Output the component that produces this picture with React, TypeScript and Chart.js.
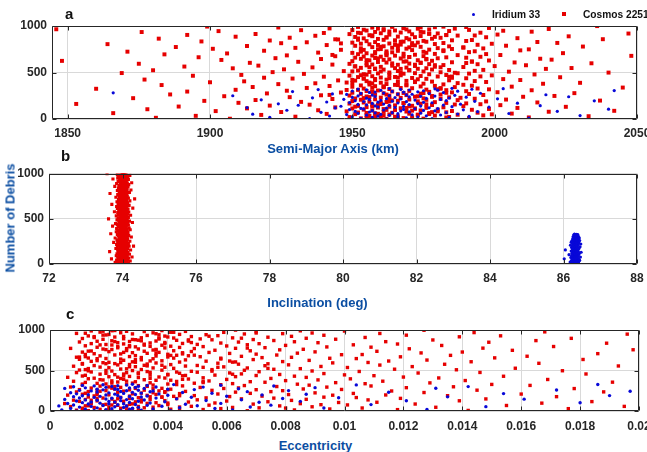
import React, { useEffect, useRef } from "react";
import { Chart, registerables } from "chart.js";

Chart.register(...registerables);

const FONT = '"Liberation Sans", Arial, Helvetica, sans-serif';
const TITLE_BLUE = "#0b4ea2";
const RED = "#e60000";
const BLUE = "#0808d8";
const AXIS = "#262626";
const GRID = "#d9d9d9";

// ---- tick labels ----
const yTicks = [0, 500, 1000];
const smaTicks = [1850, 1900, 1950, 2000, 2050];
const incTicks = [72, 74, 76, 78, 80, 82, 84, 86, 88];
const eccTicks = [0, 0.002, 0.004, 0.006, 0.008, 0.01, 0.012, 0.014, 0.016, 0.018, 0.02];

// ---- Cosmos 2251 debris (red) ----
const redDebrisNo = [
  1,3,4,7,9,10,13,15,17,18, 21,22,25,27,29,30,33,34,37,39, 40,43,44,46,49,50,52,55,57,58,
  61,63,64,67,68,70,72,75,76,78, 80,82,85,86,88,91,92,94,97,99, 101,102,105,107,108,111,113,114,116,119,
  120,123,125,126,128,131,132,134,137,138, 141,142,144,147,149,150,153,154,156,159, 160,162,165,166,168,171,173,174,177,178,
  181,183,184,186,189,190,193,195,196,198, 200,203,204,207,209,210,212,215,217,218, 221,222,224,227,228,230,233,235,236,239,
  240,242,245,247,248,251,252,255,257,258, 261,263,264,266,269,270,272,275,277,278, 280,283,285,286,288,291,292,295,296,299,
  301,302,304,307,309,310,313,314,316,319, 320,322,325,327,328,331,333,334,337,338, 341,343,344,347,348,350,353,355,356,358,
  361,362,365,367,368,371,372,375,376,379, 380,383,384,386,389,390,392,395,397,398, 401,402,405,407,408,410,413,415,416,419,
  420,423,424,427,429,430,432,435,436,438, 441,443,444,446,449,451,452,455,457,458, 460,462,465,466,469,470,473,474,476,479,
  481,482,485,487,488,490,493,494,497,499, 500,503,504,506,509,511,512,515,516,518, 521,523,524,527,528,531,532,534,537,539,
  540,542,545,547,548,550,553,555,556,559, 561,562,564,567,569,570,573,574,577,578, 580,583,585,586,589,590,593,594,596,599,
  601,603,604,607,608,610,613,615,617,618, 620,622,625,626,629,631,632,635,636,638, 641,642,645,647,648,651,653,654,656,659,
  660,663,664,667,669,670,672,675,676,679, 681,682,684,687,688,691,692,695,697,698, 700,702,705,707,708,711,712,714,717,719,
  720,723,724,727,728,730,733,734,737,738, 741,743,744,746,749,750,753,755,756,759, 760,762,765,766,768,771,773,774,776,779,
  781,782,785,787,788,791,792,795,796,798, 800,803,805,806,809,810,812,815,817,818, 821,822,825,827,828,831,832,834,837,839,
  840,843,844,846,849,851,852,855,856,858, 861,863,864,867,869,870,873,874,877,879, 880,882,885,886,889,890,892,895,897,898,
  901,903,904,907,908,911,913,914,916,919, 920,922,925,927,928,930,933,935,936,939, 941,942,945,946,949,951,952,955,957,958,
  960,963,965,966,968,971,972,974,977,979, 981,983,984,987,989,990,993,994,997,999,
  6,112,219,326,434,539,646,752,857,963, 24,133,238,345,454,557,666,770,878,985, 47,151,259,365,471,579,686,793,899,16,
  65,170,279,387,492,598,705,813,918,36, 83,189,297,404,511,617,724,831,937,56, 98,206,312,418,526,633,739,845,954,74,
  118,225,332,439,546,652,758,866,972,90, 135,244,351,456,565,671,777,883,991,11, 157,263,369,477,584,689,797,902,30,606,
  176,282,391,496,602,709,816,923,53,446,
];

const redSemiMajorAxis = [
  1962,1907,1975,1953,1991,1968,1881,1958,2012,1971, 1949,1984,1930,1960,1966,2033,1956,1895,1979,1996,
  1973,1955,1918,1987,1963,1999,1951,1941,1970,2006, 1958,1866,1977,1964,1994,1952,1983,1925,1961,2019,
  1969,1948,1902,1985,2042,1957,1974,1938,1965,1992, 1954,1980,1878,1961,1998,1972,1950,1913,1967,2008,
  1976,1959,1944,1982,1955,2025,1963,1889,1970,1989, 1952,1971,1921,1965,2002,1978,1957,1935,1986,1995,
  1960,1853,1974,1949,1990,1968,1983,1910,1954,2015, 1979,1962,1932,1956,1997,1973,1950,1898,1966,2037,
  1964,1987,1916,1953,2004,1970,1958,1943,1981,1993, 1951,1975,1873,1967,1988,1960,1984,1928,1956,2010,
  1972,1955,1905,1978,2021,1963,1949,1939,1969,1996, 1958,1981,1886,1966,1991,1953,1974,1920,1961,2028,
  1968,1950,1946,1985,2001,1957,1977,1892,1964,1990, 1955,1970,1927,1959,2013,1983,1952,1909,1976,1998,
  1980,1963,1860,1954,1994,1971,1967,1934,1957,2045, 1961,1986,1915,1950,2006,1974,1958,1942,1979,1992,
  1953,1969,1883,1965,1989,1956,1982,1924,1962,2017, 1975,1957,1937,1987,2030,1960,1948,1900,1972,1997,
  1966,1978,1912,1955,1993,1969,1951,1945,1984,2009, 1950,1962,1877,1973,2003,1958,1976,1929,1954,1990,
  1971,1985,1919,1960,2023,1952,1965,1940,1980,1995, 1957,1974,1894,1949,1999,1967,1983,1911,1963,2014,
  1977,1954,1933,1968,1991,1959,1972,1869,1986,2040, 1963,1981,1922,1956,2005,1975,1950,1947,1966,1993,
  1952,1970,1880,1984,1996,1961,1978,1926,1958,2018, 1973,1958,1908,1965,2027,1953,1969,1936,1981,1989,
  1960,1979,1891,1951,2000,1972,1964,1917,1955,2011, 1982,1966,1943,1957,1994,1977,1949,1875,1970,2034,
  1955,1974,1914,1962,2007,1985,1959,1931,1968,1992, 1969,1950,1848,1978,1998,1956,1973,1904,1961,2020,
  1976,1963,1939,1953,2016,1967,1980,1923,1958,1990, 1951,1983,1896,1970,1995,1960,1954,1944,1975,2048,
  1965,1957,1927,1987,2002,1972,1962,1884,1952,1997, 1979,1968,1906,1955,2024,1950,1976,1938,1964,1991,
  1958,1975,1871,1962,1993,1982,1966,1919,1953,2009, 1971,1954,1946,1977,2012,1959,1985,1901,1969,1996,
  1953,1980,1930,1964,1989,1970,1957,1888,1974,2031, 1984,1961,1913,1951,2004,1966,1972,1941,1959,1994,
  1967,1956,1864,1979,1999,1953,1963,1925,1982,2022, 1950,1973,1934,1958,2015,1976,1968,1897,1955,1990,
  1975,1965,1921,1985,1992,1961,1952,1945,1970,2038, 1959,1978,1882,1954,2008,1969,1981,1928,1962,1997,
  1972,1951,1909,1966,2026,1957,1974,1937,1987,1993, 1956,1983,1892,1963,2001,1971,1949,1916,1977,2047,
  1980,1960,1940,1952,1995,1967,1975,1876,1958,2013, 1963,1970,1903,1984,2003,1955,1965,1932,1950,1991,
  1954,1977,1846,1961,2019,1973,1959,1942,1968,1998, 1968,1957,1924,1979,1990,1952,1982,1899,1964,2036,
  1958,1972,1963,1981,1954,1967,1976,1960,1944,1969, 1965,1951,1978,1961,1984,1956,1970,1989,1962,1974,
  1973,1959,1942,1966,1953,1979,1962,1971,1957,1983, 1955,1968,1975,1950,1987,1964,1958,1946,1977,1961,
  1980,1963,1957,1972,1960,1992,1953,1967,1974,1959, 1962,1976,1948,1958,1970,1955,1982,1965,1961,1978,
  1969,1954,1981,1963,1976,1959,1966,1952,1986,1971, 1957,1973,1961,1985,1951,1968,1960,1979,1964,1955,
  1976,1962,1969,1955,1972,1943,1965,1983,1958,1974, 1960,1983,1956,1967,1990,1962,1971,1953,1977,1966,
];

const redInclination = [
  74.02,73.95,74.10,73.88,74.05,73.99,74.16,73.92,74.07,73.80, 73.97,74.12,74.01,73.86,74.08,73.93,74.21,74.04,73.99,73.90,
  74.06,73.84,74.00,74.14,73.96,74.09,73.91,74.03,73.70,74.11, 73.98,74.05,73.89,74.17,74.01,73.94,74.08,73.87,74.02,74.26,
  74.03,73.92,74.13,73.97,74.07,73.83,74.00,74.10,73.95,74.05, 73.90,74.06,73.99,74.19,73.94,74.02,73.85,74.11,74.04,73.97,
  74.09,73.96,74.01,73.88,74.15,74.03,73.93,74.07,73.65,74.00, 73.95,74.12,74.04,73.91,74.00,74.08,73.98,74.22,73.87,74.05,
  74.01,73.89,74.10,73.97,74.05,73.82,74.14,73.94,74.03,73.99, 74.07,73.93,73.99,74.11,73.86,74.04,74.00,73.96,74.18,74.30,
  73.96,74.02,74.13,73.90,74.06,73.98,74.09,73.84,74.01,74.04, 74.00,73.94,74.07,74.16,73.92,74.03,73.88,74.10,73.97,73.76,
  74.05,73.99,73.87,74.08,74.01,74.20,73.95,74.04,73.91,74.12, 73.93,74.06,74.02,73.85,74.11,73.97,74.00,74.14,74.07,73.96,
  74.08,73.91,74.04,73.99,73.80,74.13,74.02,73.94,74.06,74.24, 73.98,74.10,73.95,74.03,74.07,73.89,74.17,74.00,73.93,74.05,
  74.04,73.96,74.12,73.86,74.01,74.06,73.99,73.68,74.09,73.92, 73.97,74.03,74.08,74.15,73.90,74.00,74.05,73.94,73.83,74.11,
  74.06,73.92,74.01,73.98,74.13,73.87,74.04,74.09,73.95,74.21, 74.00,74.07,73.93,74.11,73.97,74.02,73.84,74.05,74.18,73.99,
  73.94,74.05,74.10,73.99,74.03,73.88,74.07,73.96,74.01,73.73, 74.09,73.98,73.91,74.04,74.16,74.00,73.95,74.12,73.86,74.03,
  74.02,74.08,73.96,73.81,74.05,73.93,74.14,73.99,74.06,74.27, 73.95,74.01,74.11,73.90,74.04,74.07,73.98,74.19,73.92,74.00,
  74.06,73.97,74.03,74.09,73.85,74.00,74.13,73.94,74.02,73.62, 73.99,74.10,73.92,74.05,74.01,73.88,74.07,74.16,73.96,74.03,
  74.04,73.93,74.08,73.98,74.12,74.02,73.83,74.06,73.99,74.22, 73.97,74.05,74.00,73.89,74.09,74.14,73.95,74.03,74.07,73.91,
  74.01,73.96,74.11,74.04,73.87,73.99,74.06,74.17,73.93,73.78, 74.08,74.02,73.94,74.00,74.05,73.90,74.13,73.97,74.10,74.03,
  73.92,74.07,74.03,73.98,74.15,74.01,73.86,74.09,74.04,74.28, 74.05,73.95,74.10,74.02,73.91,74.06,74.00,73.84,73.99,74.12,
  74.00,74.09,73.97,74.04,74.18,73.93,74.07,74.01,73.88,73.71, 73.96,74.03,74.12,73.90,74.06,73.99,74.02,74.14,73.95,74.08,
  74.07,73.98,74.01,74.10,73.85,74.04,73.94,74.00,74.20,73.97, 74.02,74.11,73.93,74.05,74.00,73.89,74.08,73.96,74.03,74.33,
  73.99,74.04,74.09,73.92,74.16,74.01,73.97,74.06,73.82,74.00, 74.06,73.95,74.02,74.13,73.98,74.07,73.90,74.03,74.10,73.94,
  73.97,74.08,73.99,74.04,73.87,74.11,74.01,73.93,74.05,73.66, 74.03,74.00,74.14,73.96,74.06,73.91,74.19,74.02,73.98,74.09,
  74.05,73.94,74.01,74.10,73.99,74.04,73.86,74.07,74.00,74.23, 73.98,74.06,73.92,74.03,74.12,73.97,74.08,74.01,73.89,74.04,
  74.01,74.09,74.04,73.95,74.00,74.15,73.93,74.06,73.99,73.79, 74.07,73.96,74.02,73.90,74.11,74.03,73.98,74.05,74.17,74.00,
  73.94,74.04,74.08,74.00,73.84,74.06,74.13,73.97,74.02,74.25, 74.03,73.99,73.95,74.10,74.05,73.91,74.01,74.07,73.88,74.04,
  74.06,74.02,74.12,73.96,74.00,74.08,73.93,74.16,74.03,73.74, 73.99,74.05,74.01,74.09,73.92,74.04,73.87,74.00,74.11,73.97,
  74.04,73.94,74.07,74.02,74.14,73.98,74.06,73.90,74.01,74.20, 74.01,74.08,73.97,74.05,73.86,74.03,74.10,73.95,74.00,73.58,
  74.03,73.97,74.08,73.94,74.01,74.06,73.99,74.11,73.92,74.04, 73.98,74.05,74.00,74.09,73.95,74.02,74.13,73.96,74.07,74.01,
  74.06,73.93,74.02,73.99,74.10,74.04,73.89,74.00,74.05,73.97, 74.00,74.08,73.96,74.03,74.06,73.91,74.01,74.12,73.98,74.04,
  74.05,73.99,74.10,74.01,73.94,74.07,74.02,73.97,74.14,74.00, 73.96,74.04,74.01,74.09,73.98,74.03,73.93,74.06,74.00,74.11,
  74.02,74.07,73.95,74.00,74.04,74.12,73.99,74.03,73.90,74.06, 74.08,73.98,74.03,73.96,74.01,74.05,74.10,73.94,74.02,73.99,
  74.01,74.06,73.97,74.04,74.09,73.95,74.00,74.07,74.03,73.92, 73.97,74.02,74.05,74.00,73.93,74.08,74.01,74.04,73.98,74.13,
];

const redEccentricity = [
  0.0021,0.0067,0.0013,0.0142,0.0035,0.0009,0.0083,0.0026,0.0118,0.0052, 0.0017,0.0041,0.0095,0.0030,0.0176,0.0058,0.0011,0.0024,0.0106,0.0071,
  0.0032,0.0015,0.0062,0.0131,0.0044,0.0020,0.0089,0.0007,0.0195,0.0048, 0.0026,0.0078,0.0012,0.0037,0.0155,0.0023,0.0054,0.0101,0.0018,0.0092,
  0.0040,0.0019,0.0069,0.0124,0.0028,0.0085,0.0005,0.0033,0.0167,0.0056, 0.0014,0.0036,0.0098,0.0022,0.0111,0.0047,0.0029,0.0074,0.0184,0.0010,
  0.0025,0.0060,0.0016,0.0139,0.0039,0.0082,0.0031,0.0008,0.0108,0.0050, 0.0034,0.0012,0.0087,0.0021,0.0148,0.0065,0.0043,0.0027,0.0119,0.0076,
  0.0018,0.0053,0.0030,0.0104,0.0024,0.0093,0.0013,0.0038,0.0172,0.0061, 0.0042,0.0027,0.0072,0.0015,0.0135,0.0049,0.0033,0.0096,0.0006,0.0114,
  0.0020,0.0081,0.0036,0.0011,0.0160,0.0057,0.0028,0.0044,0.0103,0.0068, 0.0031,0.0016,0.0090,0.0023,0.0127,0.0039,0.0063,0.0009,0.0188,0.0075,
  0.0013,0.0046,0.0025,0.0116,0.0037,0.0079,0.0019,0.0055,0.0145,0.0032, 0.0027,0.0070,0.0010,0.0099,0.0041,0.0022,0.0086,0.0035,0.0178,0.0059,
  0.0038,0.0014,0.0064,0.0029,0.0121,0.0051,0.0024,0.0094,0.0007,0.0137, 0.0022,0.0077,0.0033,0.0017,0.0109,0.0045,0.0030,0.0066,0.0163,0.0088,
  0.0035,0.0011,0.0058,0.0026,0.0150,0.0084,0.0040,0.0019,0.0107,0.0062, 0.0016,0.0049,0.0028,0.0129,0.0034,0.0097,0.0012,0.0073,0.0191,0.0023,
  0.0029,0.0068,0.0043,0.0008,0.0113,0.0054,0.0021,0.0080,0.0141,0.0036, 0.0041,0.0018,0.0091,0.0032,0.0169,0.0060,0.0025,0.0047,0.0102,0.0013,
  0.0024,0.0075,0.0015,0.0039,0.0132,0.0052,0.0030,0.0087,0.0006,0.0120, 0.0037,0.0020,0.0063,0.0027,0.0154,0.0083,0.0011,0.0045,0.0110,0.0070,
  0.0012,0.0056,0.0034,0.0100,0.0022,0.0078,0.0040,0.0017,0.0182,0.0065, 0.0030,0.0093,0.0019,0.0044,0.0125,0.0061,0.0026,0.0009,0.0146,0.0050,
  0.0043,0.0014,0.0071,0.0033,0.0105,0.0048,0.0021,0.0089,0.0174,0.0028, 0.0019,0.0066,0.0038,0.0010,0.0138,0.0055,0.0031,0.0076,0.0117,0.0024,
  0.0026,0.0085,0.0013,0.0042,0.0158,0.0067,0.0035,0.0020,0.0101,0.0052, 0.0039,0.0017,0.0059,0.0029,0.0123,0.0092,0.0008,0.0046,0.0193,0.0073,
  0.0015,0.0050,0.0032,0.0112,0.0023,0.0081,0.0041,0.0027,0.0134,0.0064, 0.0033,0.0074,0.0022,0.0011,0.0166,0.0057,0.0036,0.0096,0.0018,0.0108,
  0.0020,0.0062,0.0044,0.0028,0.0143,0.0079,0.0014,0.0053,0.0115,0.0034, 0.0038,0.0016,0.0088,0.0025,0.0128,0.0046,0.0031,0.0069,0.0181,0.0010,
  0.0024,0.0058,0.0035,0.0104,0.0019,0.0095,0.0042,0.0013,0.0151,0.0072, 0.0031,0.0082,0.0009,0.0040,0.0119,0.0051,0.0027,0.0065,0.0162,0.0036,
  0.0017,0.0047,0.0029,0.0136,0.0043,0.0077,0.0022,0.0099,0.0106,0.0012, 0.0040,0.0070,0.0024,0.0015,0.0186,0.0061,0.0033,0.0084,0.0126,0.0045,
  0.0028,0.0054,0.0037,0.0011,0.0140,0.0090,0.0020,0.0048,0.0111,0.0032, 0.0014,0.0068,0.0042,0.0026,0.0157,0.0056,0.0035,0.0078,0.0198,0.0021,
  0.0036,0.0086,0.0018,0.0030,0.0122,0.0049,0.0007,0.0063,0.0147,0.0039, 0.0023,0.0073,0.0044,0.0016,0.0109,0.0094,0.0029,0.0052,0.0171,0.0034,
  0.0041,0.0060,0.0012,0.0027,0.0133,0.0080,0.0038,0.0021,0.0103,0.0067, 0.0019,0.0050,0.0032,0.0118,0.0025,0.0071,0.0014,0.0045,0.0189,0.0058,
  0.0034,0.0091,0.0023,0.0039,0.0149,0.0064,0.0010,0.0083,0.0114,0.0027, 0.0016,0.0047,0.0036,0.0021,0.0165,0.0076,0.0043,0.0030,0.0130,0.0055,
  0.0029,0.0069,0.0018,0.0097,0.0037,0.0051,0.0025,0.0011,0.0177,0.0087, 0.0042,0.0062,0.0031,0.0015,0.0107,0.0074,0.0022,0.0040,0.0139,0.0048,
  0.0025,0.0082,0.0039,0.0013,0.0153,0.0057,0.0033,0.0093,0.0121,0.0019, 0.0037,0.0053,0.0020,0.0044,0.0196,0.0066,0.0028,0.0079,0.0112,0.0009,
  0.0012,0.0089,0.0035,0.0024,0.0144,0.0059,0.0041,0.0017,0.0168,0.0070, 0.0032,0.0046,0.0026,0.0100,0.0014,0.0085,0.0038,0.0022,0.0127,0.0063,
  0.0019,0.0031,0.0012,0.0043,0.0025,0.0057,0.0016,0.0036,0.0022,0.0070, 0.0028,0.0014,0.0039,0.0021,0.0062,0.0033,0.0010,0.0026,0.0047,0.0018,
  0.0035,0.0023,0.0016,0.0052,0.0030,0.0011,0.0041,0.0027,0.0065,0.0020, 0.0013,0.0038,0.0029,0.0017,0.0055,0.0024,0.0045,0.0032,0.0015,0.0080,
  0.0027,0.0044,0.0020,0.0034,0.0012,0.0061,0.0025,0.0039,0.0018,0.0030, 0.0040,0.0016,0.0033,0.0023,0.0074,0.0029,0.0013,0.0048,0.0036,0.0021,
  0.0022,0.0035,0.0011,0.0046,0.0027,0.0058,0.0019,0.0031,0.0042,0.0014, 0.0031,0.0017,0.0052,0.0025,0.0038,0.0012,0.0067,0.0028,0.0021,0.0044,
  0.0016,0.0040,0.0026,0.0034,0.0019,0.0049,0.0023,0.0037,0.0011,0.0063, 0.0034,0.0021,0.0045,0.0013,0.0029,0.0036,0.0017,0.0054,0.0026,0.0040,
];

// ---- Iridium 33 debris (blue) ----
const blueDebrisNo = [
  1,3,5,8,10,12,14,17,19,21, 23,25,28,30,32,34,37,39,41,43, 45,48,50,52,54,57,59,61,63,65,
  68,70,72,74,77,79,81,83,86,88, 90,92,94,97,99,101,103,106,108,110, 112,114,117,119,121,123,126,128,130,132,
  135,137,139,141,143,146,148,150,152,155, 157,159,161,163,166,168,170,172,175,177, 179,181,183,186,188,190,192,195,197,199,
  201,203,206,208,210,212,215,217,219,221, 224,226,228,230,232,235,237,239,241,244, 246,248,250,252,255,257,259,261,264,266,
  268,270,272,275,277,279,281,284,286,288, 290,292,295,297,299,301,304,306,308,310, 312,314,316,318,320,322,324,326,328,330,
];

const blueSemiMajorAxis = [
  1962,1935,1978,1953,2012,1969,1984,1957,1921,1973, 1950,1966,1991,1959,1942,1976,2030,1963,1955,1981,
  1971,1948,1960,1915,1987,1966,2005,1952,1974,1958, 1964,1983,1939,1956,1970,1994,1951,2022,1967,1979,
  1957,1975,1927,1961,1989,1949,1968,2040,1954,1972, 1980,1953,1962,1944,1977,1913,1965,1998,1959,1985,
  1968,1946,1974,1958,2016,1963,1931,1982,1955,1970, 1952,1988,1961,1924,1973,1957,2008,1966,1978,1949,
  1975,1959,1941,1969,1954,1993,1964,2035,1951,1983, 1960,1972,1918,1956,1981,1947,1967,2001,1962,1976,
  1955,1984,1936,1965,1950,1990,1970,2026,1958,1974, 1979,1952,1908,1963,1986,1957,1969,2018,1948,1971,
  1966,1943,1977,1953,1995,1961,1866,1982,1956,1968, 1958,1973,1929,1964,1987,1950,1975,2042,1960,1980,
  1970,1955,1938,1967,1992,1952,1979,2003,1963,1985,
];

const blueInclination = [
  86.31,86.25,86.38,86.22,86.34,86.29,86.41,86.27,86.36,86.18, 86.33,86.24,86.40,86.30,86.21,86.35,86.28,86.44,86.26,86.32,
  86.37,86.23,86.30,86.42,86.27,86.02,86.34,86.29,86.39,86.25, 86.28,86.36,86.20,86.33,86.46,86.26,86.31,86.38,86.24,86.35,
  86.30,86.22,86.37,86.27,86.41,86.32,86.15,86.29,86.35,86.26, 86.34,86.28,86.43,86.23,86.31,86.37,86.26,86.33,86.48,86.30,
  86.25,86.36,86.29,86.40,86.21,86.32,86.38,86.27,86.34,86.05, 86.33,86.26,86.39,86.30,86.24,86.35,86.42,86.28,86.31,86.37,
  86.29,86.34,86.22,86.38,86.27,86.45,86.31,86.25,86.36,86.32, 86.36,86.28,86.33,86.19,86.40,86.30,86.26,86.37,86.32,86.47,
  86.27,86.35,86.30,86.42,86.24,86.33,86.38,86.29,86.21,86.34, 86.32,86.26,86.39,86.31,86.36,86.23,86.44,86.28,86.35,86.30,
  86.38,86.29,86.34,86.25,86.41,86.32,86.27,86.37,86.30,86.43, 86.31,86.36,86.28,86.39,86.33,86.26,86.35,86.30,86.40,86.34,
  86.33,86.29,86.37,86.31,86.35,86.28,86.39,86.32,86.36,86.30,
];

const blueEccentricity = [
  0.0009,0.0024,0.0041,0.0015,0.0031,0.0062,0.0004,0.0019,0.0128,0.0027, 0.0012,0.0035,0.0021,0.0056,0.0007,0.0028,0.0093,0.0016,0.0044,0.0025,
  0.0030,0.0010,0.0068,0.0022,0.0148,0.0014,0.0038,0.0026,0.0003,0.0050, 0.0018,0.0033,0.0075,0.0008,0.0023,0.0109,0.0029,0.0046,0.0013,0.0020,
  0.0025,0.0006,0.0058,0.0017,0.0034,0.0180,0.0011,0.0027,0.0071,0.0022, 0.0014,0.0039,0.0020,0.0085,0.0030,0.0009,0.0121,0.0024,0.0053,0.0016,
  0.0032,0.0012,0.0065,0.0026,0.0005,0.0161,0.0019,0.0043,0.0028,0.0079, 0.0021,0.0036,0.0010,0.0098,0.0024,0.0015,0.0048,0.0031,0.0135,0.0008,
  0.0027,0.0017,0.0060,0.0033,0.0011,0.0190,0.0023,0.0040,0.0019,0.0072, 0.0013,0.0029,0.0087,0.0022,0.0037,0.0009,0.0154,0.0025,0.0055,0.0031,
  0.0020,0.0007,0.0045,0.0028,0.0115,0.0016,0.0034,0.0067,0.0024,0.0197, 0.0035,0.0014,0.0026,0.0081,0.0010,0.0030,0.0172,0.0018,0.0049,0.0023,
  0.0016,0.0040,0.0022,0.0064,0.0032,0.0005,0.0131,0.0027,0.0012,0.0090, 0.0029,0.0019,0.0052,0.0036,0.0008,0.0142,0.0021,0.0030,0.0076,0.0015,
  0.0023,0.0033,0.0011,0.0058,0.0026,0.0104,0.0018,0.0042,0.0186,0.0028,
];

// ---- panel layout ----
type PanelCfg = {
  top: number; height: number; padTop: number; padRight: number;
  yWidth: number; xHeight: number; xPad: number;
  xMin: number; xMax: number; xTicks: number[];
  redX: number[]; blueX: number[]; redR: number; blueR: number;
};

const panels: PanelCfg[] = [
  { top: 0, height: 145, padTop: 26, padRight: 10, yWidth: 52, xHeight: 26, xPad: 7,
    xMin: 1844.5, xMax: 2050, xTicks: smaTicks, redX: redSemiMajorAxis, blueX: blueSemiMajorAxis, redR: 2.8, blueR: 1.6 },
  { top: 150, height: 140, padTop: 23.5, padRight: 10, yWidth: 49, xHeight: 26, xPad: 7,
    xMin: 72, xMax: 88, xTicks: incTicks, redX: redInclination, blueX: blueInclination, redR: 2.2, blueR: 1.6 },
  { top: 300, height: 135, padTop: 30, padRight: 8, yWidth: 50, xHeight: 24, xPad: 8,
    xMin: 0, xMax: 0.02, xTicks: eccTicks, redX: redEccentricity, blueX: blueEccentricity, redR: 2.4, blueR: 1.7 },
];

const boxPlugin = {
  id: "matlabBox",
  afterDatasetsDraw(chart: any) {
    const { ctx, chartArea } = chart;
    const { left, right, top, bottom } = chartArea;
    const xs = chart.scales.x;
    const ys = chart.scales.y;
    ctx.save();
    ctx.strokeStyle = AXIS;
    ctx.lineWidth = 1;
    ctx.beginPath();
    const L = Math.round(left) + 0.5, R = Math.round(right) - 0.5;
    const T = Math.round(top) + 0.5, B = Math.round(bottom) - 0.5;
    ctx.rect(L, T, R - L, B - T);
    const tl = 4;
    xs.ticks.forEach((t: any) => {
      const px = Math.round(xs.getPixelForValue(t.value)) + 0.5;
      ctx.moveTo(px, B); ctx.lineTo(px, B - tl);
      ctx.moveTo(px, T); ctx.lineTo(px, T + tl);
    });
    ys.ticks.forEach((t: any) => {
      const py = Math.round(ys.getPixelForValue(t.value)) + 0.5;
      ctx.moveTo(L, py); ctx.lineTo(L + tl, py);
      ctx.moveTo(R, py); ctx.lineTo(R - tl, py);
    });
    ctx.stroke();
    ctx.restore();
  },
};

function ScatterPanel({ cfg }: { cfg: PanelCfg }) {
  const ref = useRef<HTMLCanvasElement>(null);
  useEffect(() => {
    const tickFont = { family: FONT, size: 12, weight: "bold" as const };
    const chart = new Chart(ref.current as HTMLCanvasElement, {
      type: "scatter",
      data: {
        datasets: [
          {
            label: "Iridium 33",
            data: blueDebrisNo.map((n, i) => ({ x: cfg.blueX[i], y: n })),
            pointStyle: "circle",
            pointRadius: cfg.blueR,
            backgroundColor: BLUE,
            borderWidth: 0,
          },
          {
            label: "Cosmos 2251",
            data: redDebrisNo.map((n, i) => ({ x: cfg.redX[i], y: n })),
            pointStyle: "rect",
            pointRadius: cfg.redR,
            backgroundColor: RED,
            borderWidth: 0,
          },
        ],
      },
      options: {
        responsive: false,
        animation: false,
        events: [],
        layout: { padding: { top: cfg.padTop, right: cfg.padRight, left: 0, bottom: 0 } },
        plugins: { legend: { display: false }, tooltip: { enabled: false } },
        scales: {
          x: {
            type: "linear",
            min: cfg.xMin,
            max: cfg.xMax,
            afterBuildTicks: (s: any) => { s.ticks = cfg.xTicks.map((v) => ({ value: v })); },
            afterFit: (s: any) => { s.height = cfg.xHeight; s.paddingLeft = 0; s.paddingRight = 0; },
            grid: { color: GRID, lineWidth: 1, drawTicks: false },
            border: { display: false },
            ticks: {
              autoSkip: false, maxRotation: 0, padding: cfg.xPad, color: AXIS, font: tickFont,
              callback: (v: any) => String(v),
            },
          },
          y: {
            type: "linear",
            min: 0,
            max: 1000,
            afterBuildTicks: (s: any) => { s.ticks = yTicks.map((v) => ({ value: v })); },
            afterFit: (s: any) => { s.width = cfg.yWidth; s.paddingTop = 0; s.paddingBottom = 0; },
            grid: { color: GRID, lineWidth: 1, drawTicks: false },
            border: { display: false },
            ticks: {
              autoSkip: false, padding: 5, color: AXIS, font: tickFont,
              callback: (v: any) => String(v),
            },
          },
        },
      } as any,
      plugins: [boxPlugin],
    });
    return () => chart.destroy();
  }, [cfg]);
  return (
    <canvas
      ref={ref}
      width={647}
      height={cfg.height}
      style={{ position: "absolute", left: 0, top: cfg.top, width: 647, height: cfg.height }}
    />
  );
}

function Label({ text, x, y, size, color, center, rotate }: any) {
  return (
    <div
      style={{
        position: "absolute",
        left: x,
        top: y,
        transform: `translate(${center ? "-50%" : "0"}, -50%)${rotate ? " rotate(-90deg)" : ""}`,
        font: `bold ${size}px ${FONT}`,
        color,
        whiteSpace: "nowrap",
        lineHeight: 1,
      }}
    >
      {text}
    </div>
  );
}

export default function App() {
  return (
    <div
      style={{
        position: "fixed", left: 0, top: 0, width: 647, height: 452,
        background: "#fff", overflow: "hidden",
      }}
    >
      {panels.map((p, i) => (
        <ScatterPanel key={i} cfg={p} />
      ))}
      <Label text="a" x={65} y={13} size={15} color="#111" />
      <Label text="b" x={61} y={155} size={15} color="#111" />
      <Label text="c" x={66} y={313} size={15} color="#111" />
      <Label text="Semi-Major Axis (km)" x={333} y={148} size={13} color={TITLE_BLUE} center />
      <Label text="Inclination (deg)" x={317.5} y={302} size={13} color={TITLE_BLUE} center />
      <Label text="Eccentricity" x={315.5} y={445} size={13} color={TITLE_BLUE} center />
      <Label text="Number of Debris" x={10} y={218} size={13} color={TITLE_BLUE} center rotate />
      {/* legend */}
      <div style={{ position: "absolute", left: 471.5, top: 12.5, width: 3, height: 3, borderRadius: "50%", background: BLUE }} />
      <Label text="Iridium 33" x={492} y={14.5} size={10.2} color="#111" />
      <div style={{ position: "absolute", left: 562, top: 12, width: 4, height: 4, background: RED }} />
      <Label text="Cosmos 2251" x={583} y={14.5} size={10.2} color="#111" />
    </div>
  );
}
